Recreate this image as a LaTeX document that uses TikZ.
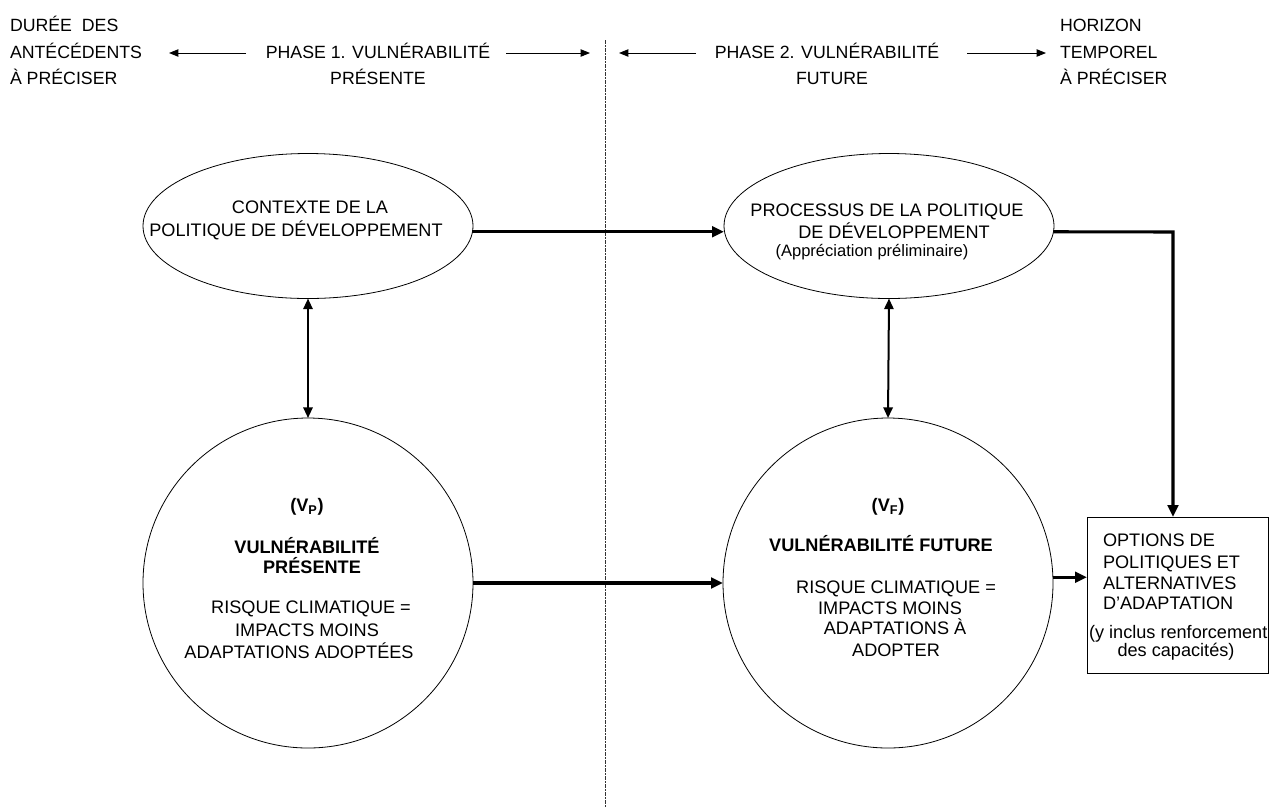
\documentclass[tikz,border=0pt]{standalone}
\usepackage{fontspec}
\setmainfont{Liberation Sans}
\usetikzlibrary{arrows.meta,shapes.geometric}

\begin{document}
\begin{tikzpicture}[x=0.75pt,y=-0.75pt,
  every node/.style={inner sep=0pt, outer sep=0pt},
  txtc/.style={anchor=base, font=\fontsize{13.6}{16}\selectfont},
  txtw/.style={txtc, anchor=base west},
  txtb/.style={txtc, font=\fontsize{13.6}{16}\selectfont\bfseries},
  txts/.style={txtc, font=\fontsize{12.4}{15}\selectfont},
  hdr/.style={anchor=base, font=\fontsize{13.3}{16}\selectfont},
  hdrw/.style={hdr, anchor=base west},
  oval/.style={draw, ellipse, line width=0.6pt, minimum width=247.5pt, minimum height=108.75pt},
  disc/.style={draw, circle, line width=0.6pt, minimum size=247.5pt},
  optbox/.style={draw, rectangle, line width=0.6pt, minimum width=135.75pt, minimum height=117pt},
  flow/.style={line width=2.3pt, -{Triangle[length=9pt,width=8pt]}},
  twoway/.style={line width=1.5pt, {Triangle[length=8pt,width=7pt]}-{Triangle[length=8pt,width=7pt]}},
  hdrarrow/.style={line width=0.7pt, -{Triangle[length=7pt,width=5.5pt]}},
  divider/.style={line width=0.6pt, black!80, dash pattern=on 3pt off 1pt on 1pt off 1pt},
]
\useasboundingbox[fill=white] (0,0) rectangle (1269,808);

% ---- header: time span of the two phases ----
\node[hdrw] (h1a) at (10,31) {DURÉE\ \ DES};
\node[hdrw] (h1b) at (10,58) {ANTÉCÉDENTS};
\node[hdrw] (h1c) at (10,84) {À PRÉCISER};
\node[hdr] (p1a) at (378,58) {PHASE 1. VULNÉRABILITÉ};
\node[hdr] (p1b) at (378,84) {PRÉSENTE};
\node[hdr] (p2a) at (827,58) {PHASE 2. VULNÉRABILITÉ};
\node[hdr] (p2b) at (832,84) {FUTURE};
\node[hdrw] (h2a) at (1060,31) {HORIZON};
\node[hdrw] (h2b) at (1060,58) {TEMPOREL};
\node[hdrw] (h2c) at (1060,84) {À PRÉCISER};

\coordinate (a1s) at (246,53); \coordinate (a1e) at (169,53);
\coordinate (a2s) at (506,53); \coordinate (a2e) at (590,53);
\coordinate (a3s) at (696,53); \coordinate (a3e) at (619,53);
\coordinate (a4s) at (967,53); \coordinate (a4e) at (1046,53);
\draw[hdrarrow] (a1s) -- (a1e);
\draw[hdrarrow] (a2s) -- (a2e);
\draw[hdrarrow] (a3s) -- (a3e);
\draw[hdrarrow] (a4s) -- (a4e);

% ---- phase divider ----
\coordinate (dtop) at (605,40);
\coordinate (dbot) at (605,808);
\draw[divider] (dtop) -- (dbot);

% ---- shapes ----
\node[oval] (ctx) at (308,226) {};
\node[oval] (proc) at (889,226) {};
\node[disc] (vp) at (308,583) {};
\node[disc] (vf) at (888,583) {};
\node[optbox] (opt) at (1177.5,595) {};

% ---- texts ----
\node[txtc] (ctx1) at (310,213.5) {CONTEXTE DE LA};
\node[txtc] (ctx2) at (296,236.5) {POLITIQUE DE DÉVELOPPEMENT};

\node[txtc] (proc1) at (887,216.5) {PROCESSUS DE LA POLITIQUE};
\node[txtc] (proc2) at (894,238.5) {DE DÉVELOPPEMENT};
\node[txts] (proc3) at (872,256) {(Appréciation préliminaire)};

\node[txtb] (vp0) at (307,511.5) {(V\textsubscript{P})};
\node[txtb] (vp1) at (307,553.5) {VULNÉRABILITÉ};
\node[txtb] (vp2) at (312,573.5) {PRÉSENTE};
\node[txtc] (vp3) at (311,613.5) {RISQUE CLIMATIQUE =};
\node[txtc] (vp4) at (307,636.5) {IMPACTS MOINS};
\node[txtc] (vp5) at (299,658.5) {ADAPTATIONS ADOPTÉES};

\node[txtb] (vf0) at (888,511.5) {(V\textsubscript{F})};
\node[txtb] (vf1) at (881,551.5) {VULNÉRABILITÉ FUTURE};
\node[txtc] (vf2) at (896,593.5) {RISQUE CLIMATIQUE =};
\node[txtc] (vf3) at (890,614.5) {IMPACTS MOINS};
\node[txtc] (vf4) at (895,634.5) {ADAPTATIONS À};
\node[txtc] (vf5) at (896,656.5) {ADOPTER};

\node[txtw] (opt1) at (1103,546.5) {OPTIONS DE};
\node[txtw] (opt2) at (1103,568.5) {POLITIQUES ET};
\node[txtw] (opt3) at (1103,589.5) {ALTERNATIVES};
\node[txtw] (opt4) at (1103,609.5) {D’ADAPTATION};
\node[txtw] (opt5) at (1089,638.5) {(y inclus renforcement};
\node[txtc] (opt6) at (1176,656.5) {des capacités)};

% ---- connectors ----
\draw[flow] (ctx.-2.4) -- (ctx.-2.4 -| proc.west);
\coordinate (turn) at (1173,232);
\draw[flow] (proc.-2) -- (turn) -- (turn |- opt.north);
\draw[twoway] (ctx.south) -- (vp.north);
\draw[twoway] (proc.south) -- (vf.north);
\draw[flow] (vp.east) -- (vf.west);
\draw[flow] (vf.2) -- (vf.2 -| opt.west);
\end{tikzpicture}
\end{document}
